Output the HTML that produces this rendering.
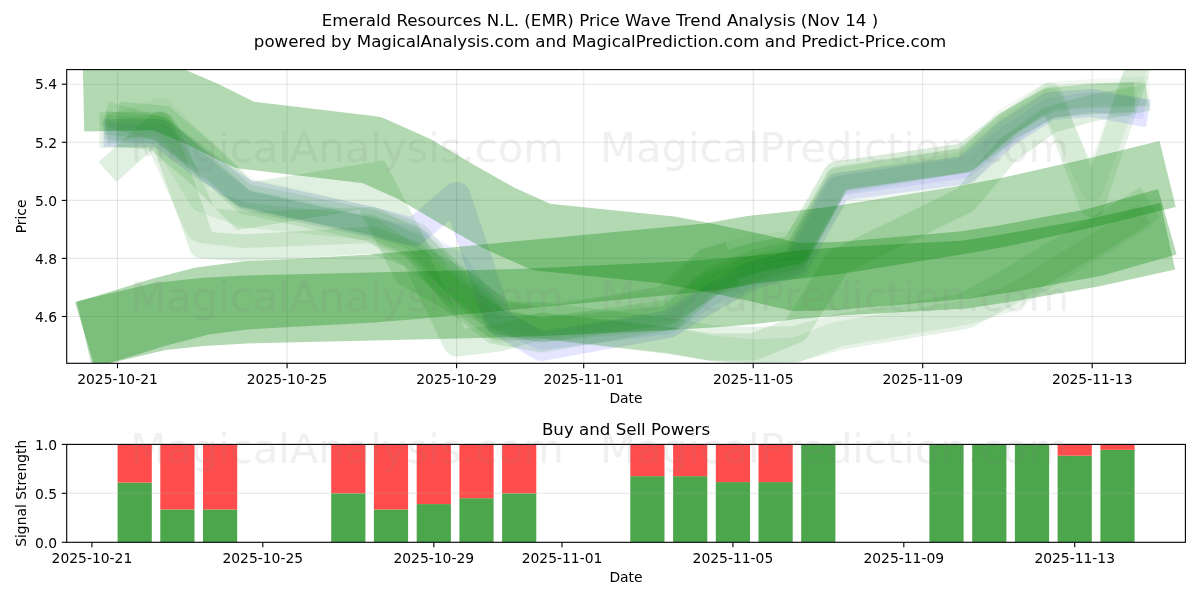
<!DOCTYPE html>
<html><head><meta charset="utf-8"><title>Emerald Resources N.L. (EMR) Price Wave Trend Analysis</title>
<style>html,body{margin:0;padding:0;background:#fff;}body{width:1200px;height:600px;overflow:hidden;}svg{display:block;will-change:transform;font-family:"DejaVu Sans","Liberation Sans",sans-serif;}</style>
</head><body>
<svg width="1200" height="600" viewBox="0 0 1200 600">
<rect x="0" y="0" width="1200" height="600" fill="#ffffff"/>
<defs><clipPath id="ct"><rect x="66.7" y="69.6" width="1118.7" height="293.7"/></clipPath>
<clipPath id="cb"><rect x="66.7" y="444.4" width="1118.7" height="97.9"/></clipPath></defs>
<g font-size="16.67px" text-anchor="middle" fill="#000">
<text x="600" y="26">Emerald Resources N.L. (EMR) Price Wave Trend Analysis (Nov 14 )</text>
<text x="600" y="46.6">powered by MagicalAnalysis.com and MagicalPrediction.com and Predict-Price.com</text>
<text x="626" y="434.5">Buy and Sell Powers</text>
</g>
<g stroke="#b0b0b0" stroke-opacity="0.3" stroke-width="1.11">
<line x1="117.5" y1="69.6" x2="117.5" y2="363.3"/>
<line x1="287.1" y1="69.6" x2="287.1" y2="363.3"/>
<line x1="456.6" y1="69.6" x2="456.6" y2="363.3"/>
<line x1="583.7" y1="69.6" x2="583.7" y2="363.3"/>
<line x1="753.2" y1="69.6" x2="753.2" y2="363.3"/>
<line x1="922.7" y1="69.6" x2="922.7" y2="363.3"/>
<line x1="1092.2" y1="69.6" x2="1092.2" y2="363.3"/>
<line x1="66.7" y1="316.5" x2="1185.4" y2="316.5"/>
<line x1="66.7" y1="258.4" x2="1185.4" y2="258.4"/>
<line x1="66.7" y1="200.4" x2="1185.4" y2="200.4"/>
<line x1="66.7" y1="142.3" x2="1185.4" y2="142.3"/>
<line x1="66.7" y1="84.2" x2="1185.4" y2="84.2"/>
</g>
<g clip-path="url(#ct)">
<polyline points="117.5,133.0 159.9,133.0 202.3,165.0 244.7,193.0 371.8,221.0 414.2,232.0 456.6,196.0 498.9,322.0 541.3,347.0 668.4,324.0 710.8,298.0 753.2,275.0 795.6,264.0 837.9,187.0 965.1,170.0 1007.4,133.0 1049.8,106.0 1092.2,103.0 1134.6,111.0" fill="none" stroke="#0000ff" stroke-opacity="0.1" stroke-width="28.0" stroke-linejoin="round" stroke-linecap="square"/>
<polyline points="117.5,133.0 159.9,134.0 202.3,166.0 244.7,200.0 371.8,228.0 414.2,236.0 456.6,262.0 498.9,320.0 541.3,340.0 668.4,324.0 710.8,296.0 753.2,276.0 795.6,265.0 837.9,186.0 965.1,168.0 1007.4,135.0 1049.8,108.0 1092.2,102.0 1134.6,108.0" fill="none" stroke="#0000ff" stroke-opacity="0.06" stroke-width="20.0" stroke-linejoin="round" stroke-linecap="square"/>
<polyline points="117.5,124.0 159.9,128.0 202.3,164.0 244.7,202.0 371.8,230.0 414.2,258.0 456.6,293.0 498.9,322.0 541.3,330.0 668.4,318.0 710.8,280.0 753.2,262.0 795.6,252.0 837.9,178.0 965.1,160.0 1007.4,124.0 1049.8,98.0 1092.2,95.0 1134.6,94.0" fill="none" stroke="#008000" stroke-opacity="0.1" stroke-width="24.0" stroke-linejoin="round" stroke-linecap="square"/>
<polyline points="117.5,117.0 159.9,129.0 202.3,160.0 244.7,196.0 371.8,222.0 414.2,238.0 456.6,285.0 498.9,322.0 541.3,330.0 668.4,312.0 710.8,284.0 753.2,268.0 795.6,256.0 837.9,180.0 965.1,160.0 1007.4,124.0 1049.8,95.0 1092.2,205.0 1134.6,78.0" fill="none" stroke="#008000" stroke-opacity="0.1" stroke-width="25.0" stroke-linejoin="round" stroke-linecap="square"/>
<polyline points="117.5,130.0 159.9,124.0 202.3,166.0 244.7,200.0 371.8,226.0 414.2,246.0 456.6,288.0 498.9,320.0 541.3,328.0 668.4,314.0 710.8,286.0 753.2,272.0 795.6,260.0 837.9,184.0 965.1,162.0 1007.4,127.0 1049.8,99.0 1092.2,190.0 1134.6,72.0" fill="none" stroke="#008000" stroke-opacity="0.06" stroke-width="22.0" stroke-linejoin="round" stroke-linecap="square"/>
<polyline points="117.5,163.0 159.9,125.0 202.3,245.0 244.7,248.0 371.8,240.0 414.2,255.0 456.6,343.0 498.9,338.0 541.3,326.0 668.4,340.0 710.8,347.0 753.2,347.0 795.6,330.0 837.9,262.0 965.1,200.0 1007.4,150.0 1049.8,120.0 1092.2,108.0 1134.6,100.0" fill="none" stroke="#008000" stroke-opacity="0.12" stroke-width="27.0" stroke-linejoin="round" stroke-linecap="square"/>
<polyline points="117.5,130.0 159.9,130.0 202.3,225.0 244.7,230.0 371.8,225.0 414.2,240.0 456.6,290.0 498.9,322.0 541.3,320.0 668.4,336.0 710.8,343.0 753.2,345.0 795.6,344.0 837.9,332.0 965.1,311.0 1007.4,288.0 1049.8,262.0 1092.2,238.0 1134.6,212.0" fill="none" stroke="#008000" stroke-opacity="0.1" stroke-width="36.0" stroke-linejoin="round" stroke-linecap="square"/>
<polyline points="117.5,128.0 159.9,132.0 202.3,200.0 244.7,215.0 371.8,228.0 414.2,244.0 456.6,300.0 498.9,330.0 541.3,326.0 668.4,340.0 710.8,348.0 753.2,352.0 795.6,350.0 837.9,334.0 965.1,312.5 1007.4,300.0 1049.8,274.0 1092.2,248.0 1134.6,222.0" fill="none" stroke="#008000" stroke-opacity="0.08" stroke-width="25.0" stroke-linejoin="round" stroke-linecap="square"/>
<polyline points="117.5,127.0 159.9,113.0 202.3,154.0 244.7,192.0 371.8,222.0 414.2,244.0 456.6,280.0 498.9,314.0 541.3,318.0 668.4,306.0 710.8,262.0 753.2,250.0 795.6,246.0 837.9,192.0 965.1,170.0 1007.4,122.0 1049.8,97.0 1092.2,94.0 1134.6,92.0" fill="none" stroke="#008000" stroke-opacity="0.05" stroke-width="30.0" stroke-linejoin="round" stroke-linecap="square"/>
<polyline points="117.5,124.0 159.9,128.0 202.3,164.0 244.7,206.0 371.8,185.0 414.2,267.0 456.6,290.0 498.9,322.0 541.3,330.0 668.4,308.0 710.8,270.0 732.0,264.0" fill="none" stroke="#008000" stroke-opacity="0.12" stroke-width="45.0" stroke-linejoin="miter" stroke-linecap="butt"/>
<polyline points="732.0,264.0 753.2,258.0 795.6,250.0 837.9,176.0 965.1,158.0 1007.4,126.0 1049.8,103.0 1092.2,99.0 1134.6,97.0" fill="none" stroke="#008000" stroke-opacity="0.15" stroke-width="30.0" stroke-linejoin="round" stroke-linecap="butt"/>
<polyline points="117.5,96.9 159.9,96.0 202.3,114.0 244.7,135.0 371.8,150.0 414.2,169.0 456.6,194.0 498.9,218.0 541.3,237.0 668.4,250.0 710.8,258.0 753.2,267.0 795.6,277.0 837.9,276.0 965.1,265.0 1007.4,258.5 1049.8,250.5 1092.2,243.0 1134.6,231.0" fill="none" stroke="#008000" stroke-opacity="0.3" stroke-width="68.0" stroke-linejoin="round" stroke-linecap="square"/>
<polyline points="117.5,325.0 159.9,312.0 202.3,301.0 244.7,295.5 371.8,288.5 414.2,285.0 456.6,281.0 498.9,277.0 541.3,273.0 668.4,261.0 710.8,257.0 753.2,249.5 795.6,245.0 837.9,240.0 965.1,219.5 1007.4,211.5 1049.8,202.0 1092.2,192.5 1134.6,182.1" fill="none" stroke="#008000" stroke-opacity="0.3" stroke-width="68.0" stroke-linejoin="round" stroke-linecap="square"/>
<polyline points="117.5,326.5 159.9,316.5 202.3,312.0 244.7,309.5 371.8,306.5 414.2,305.5 456.6,304.5 498.9,303.5 541.3,302.0 668.4,296.0 710.8,293.5 753.2,290.0 795.6,285.0 837.9,281.5 965.1,274.5 1007.4,268.0 1049.8,260.5 1092.2,253.0 1134.6,243.6" fill="none" stroke="#008000" stroke-opacity="0.3" stroke-width="68.0" stroke-linejoin="round" stroke-linecap="square"/>
</g>
<g stroke="#000" stroke-width="1.11">
<line x1="117.5" y1="363.3" x2="117.5" y2="368.2"/>
<line x1="287.1" y1="363.3" x2="287.1" y2="368.2"/>
<line x1="456.6" y1="363.3" x2="456.6" y2="368.2"/>
<line x1="583.7" y1="363.3" x2="583.7" y2="368.2"/>
<line x1="753.2" y1="363.3" x2="753.2" y2="368.2"/>
<line x1="922.7" y1="363.3" x2="922.7" y2="368.2"/>
<line x1="1092.2" y1="363.3" x2="1092.2" y2="368.2"/>
<line x1="61.8" y1="316.5" x2="66.7" y2="316.5"/>
<line x1="61.8" y1="258.4" x2="66.7" y2="258.4"/>
<line x1="61.8" y1="200.4" x2="66.7" y2="200.4"/>
<line x1="61.8" y1="142.3" x2="66.7" y2="142.3"/>
<line x1="61.8" y1="84.2" x2="66.7" y2="84.2"/>
</g>
<rect x="66.7" y="69.6" width="1118.7" height="293.7" fill="none" stroke="#000" stroke-width="1.11"/>
<g font-size="13.89px" fill="#000">
<text x="117.5" y="383.9" text-anchor="middle">2025-10-21</text>
<text x="287.1" y="383.9" text-anchor="middle">2025-10-25</text>
<text x="456.6" y="383.9" text-anchor="middle">2025-10-29</text>
<text x="583.7" y="383.9" text-anchor="middle">2025-11-01</text>
<text x="753.2" y="383.9" text-anchor="middle">2025-11-05</text>
<text x="922.7" y="383.9" text-anchor="middle">2025-11-09</text>
<text x="1092.2" y="383.9" text-anchor="middle">2025-11-13</text>
<text x="57.0" y="321.7" text-anchor="end">4.6</text>
<text x="57.0" y="263.6" text-anchor="end">4.8</text>
<text x="57.0" y="205.6" text-anchor="end">5.0</text>
<text x="57.0" y="147.5" text-anchor="end">5.2</text>
<text x="57.0" y="89.4" text-anchor="end">5.4</text>
<text x="626" y="403.0" text-anchor="middle">Date</text>
<text transform="translate(26.0,216.4) rotate(-90)" text-anchor="middle">Price</text>
</g>
<g clip-path="url(#cb)">
<rect x="117.6" y="482.6" width="34.2" height="59.7" fill="#4ca64c"/>
<rect x="117.6" y="444.4" width="34.2" height="38.2" fill="#ff4c4c"/>
<rect x="160.3" y="509.5" width="34.2" height="32.8" fill="#4ca64c"/>
<rect x="160.3" y="444.4" width="34.2" height="65.1" fill="#ff4c4c"/>
<rect x="203.0" y="509.5" width="34.2" height="32.8" fill="#4ca64c"/>
<rect x="203.0" y="444.4" width="34.2" height="65.1" fill="#ff4c4c"/>
<rect x="331.2" y="493.3" width="34.2" height="48.9" fill="#4ca64c"/>
<rect x="331.2" y="444.4" width="34.2" height="48.9" fill="#ff4c4c"/>
<rect x="373.9" y="509.5" width="34.2" height="32.8" fill="#4ca64c"/>
<rect x="373.9" y="444.4" width="34.2" height="65.1" fill="#ff4c4c"/>
<rect x="416.7" y="504.1" width="34.2" height="38.2" fill="#4ca64c"/>
<rect x="416.7" y="444.4" width="34.2" height="59.7" fill="#ff4c4c"/>
<rect x="459.4" y="498.2" width="34.2" height="44.1" fill="#4ca64c"/>
<rect x="459.4" y="444.4" width="34.2" height="53.8" fill="#ff4c4c"/>
<rect x="502.1" y="493.3" width="34.2" height="48.9" fill="#4ca64c"/>
<rect x="502.1" y="444.4" width="34.2" height="48.9" fill="#ff4c4c"/>
<rect x="630.3" y="476.2" width="34.2" height="66.1" fill="#4ca64c"/>
<rect x="630.3" y="444.4" width="34.2" height="31.8" fill="#ff4c4c"/>
<rect x="673.1" y="476.2" width="34.2" height="66.1" fill="#4ca64c"/>
<rect x="673.1" y="444.4" width="34.2" height="31.8" fill="#ff4c4c"/>
<rect x="715.8" y="482.1" width="34.2" height="60.2" fill="#4ca64c"/>
<rect x="715.8" y="444.4" width="34.2" height="37.7" fill="#ff4c4c"/>
<rect x="758.5" y="482.1" width="34.2" height="60.2" fill="#4ca64c"/>
<rect x="758.5" y="444.4" width="34.2" height="37.7" fill="#ff4c4c"/>
<rect x="801.2" y="444.4" width="34.2" height="97.9" fill="#4ca64c"/>
<rect x="929.4" y="444.4" width="34.2" height="97.9" fill="#4ca64c"/>
<rect x="972.2" y="444.4" width="34.2" height="97.9" fill="#4ca64c"/>
<rect x="1014.9" y="444.4" width="34.2" height="97.9" fill="#4ca64c"/>
<rect x="1057.6" y="455.7" width="34.2" height="86.6" fill="#4ca64c"/>
<rect x="1057.6" y="444.4" width="34.2" height="11.3" fill="#ff4c4c"/>
<rect x="1100.4" y="449.8" width="34.2" height="92.5" fill="#4ca64c"/>
<rect x="1100.4" y="444.4" width="34.2" height="5.4" fill="#ff4c4c"/>
</g>
<g stroke="#b0b0b0" stroke-opacity="0.3" stroke-width="1.11">
<line x1="66.7" y1="493.3" x2="1185.4" y2="493.3"/>
</g>
<g stroke="#000" stroke-width="1.11">
<line x1="91.9" y1="542.3" x2="91.9" y2="547.2"/>
<line x1="262.8" y1="542.3" x2="262.8" y2="547.2"/>
<line x1="433.8" y1="542.3" x2="433.8" y2="547.2"/>
<line x1="562.0" y1="542.3" x2="562.0" y2="547.2"/>
<line x1="732.9" y1="542.3" x2="732.9" y2="547.2"/>
<line x1="903.8" y1="542.3" x2="903.8" y2="547.2"/>
<line x1="1074.7" y1="542.3" x2="1074.7" y2="547.2"/>
<line x1="61.8" y1="542.3" x2="66.7" y2="542.3"/>
<line x1="61.8" y1="493.3" x2="66.7" y2="493.3"/>
<line x1="61.8" y1="444.4" x2="66.7" y2="444.4"/>
</g>
<rect x="66.7" y="444.4" width="1118.7" height="97.9" fill="none" stroke="#000" stroke-width="1.11"/>
<g font-size="13.89px" fill="#000">
<text x="91.9" y="562.9" text-anchor="middle">2025-10-21</text>
<text x="262.8" y="562.9" text-anchor="middle">2025-10-25</text>
<text x="433.8" y="562.9" text-anchor="middle">2025-10-29</text>
<text x="562.0" y="562.9" text-anchor="middle">2025-11-01</text>
<text x="732.9" y="562.9" text-anchor="middle">2025-11-05</text>
<text x="903.8" y="562.9" text-anchor="middle">2025-11-09</text>
<text x="1074.7" y="562.9" text-anchor="middle">2025-11-13</text>
<text x="57.0" y="547.5" text-anchor="end">0.0</text>
<text x="57.0" y="498.5" text-anchor="end">0.5</text>
<text x="57.0" y="449.6" text-anchor="end">1.0</text>
<text x="626" y="581.8" text-anchor="middle">Date</text>
<text transform="translate(26.0,493.3) rotate(-90)" text-anchor="middle">Signal Strength</text>
</g>
<g font-size="41.7px" fill="#808080" fill-opacity="0.12" text-anchor="middle">
<text x="347.0" y="161.5">MagicalAnalysis.com</text>
<text x="834.5" y="161.5">MagicalPrediction.com</text>
<text x="347.0" y="310.5">MagicalAnalysis.com</text>
<text x="834.5" y="310.5">MagicalPrediction.com</text>
<text x="347.0" y="463.0">MagicalAnalysis.com</text>
<text x="834.5" y="463.0">MagicalPrediction.com</text>
</g>
</svg></body></html>
